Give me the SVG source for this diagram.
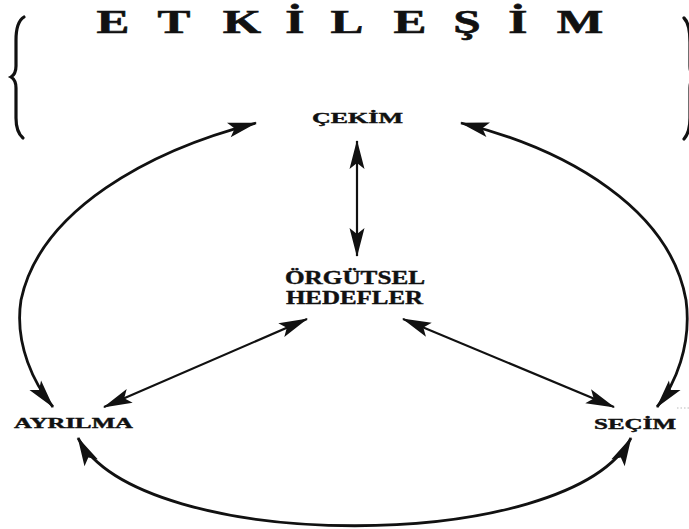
<svg xmlns="http://www.w3.org/2000/svg" width="689" height="529" viewBox="0 0 689 529">
<style>
.lbl{font-family:"Liberation Serif","Times New Roman",serif;font-weight:bold;fill:#111;stroke:#111;stroke-width:0.4}
.ttl{font-family:"Liberation Serif","Times New Roman",serif;font-weight:bold;font-size:34px;fill:#111;stroke:#111;stroke-width:0.6}
.ln{fill:none;stroke:#111;stroke-width:2.2}
.arc{fill:none;stroke:#111;stroke-width:2.8}
.brace{fill:none;stroke:#111;stroke-width:3.2;stroke-linecap:round}
</style>
<defs>
<marker id="ah" viewBox="-30 -9 32 18" refX="0" refY="0" markerWidth="32" markerHeight="18" markerUnits="userSpaceOnUse" orient="auto-start-reverse">
<path d="M1,0 L-28,-7.5 L-22,0 L-28,7.5 Z" fill="#111"/>
</marker>
</defs>
<rect width="689" height="529" fill="#fff"/>
<g id="title">
<text class="ttl" transform="scale(1.45,1)" y="33" text-anchor="middle" x="77.9 120 166.9 203.4 239.3 282.8 322.1 357.2 400">ETKİLEŞİM</text>
<path class="brace" d="M24,17 Q16,22 16,40 L16,66 Q16,74 11,77 Q16,80 16,88 L16,118 Q16,132 23,138"/>
<path class="brace" d="M684,18 Q690,24 690,42 L690,66 Q690,74 695,77 Q690,80 690,88 L690,118 Q690,132 684,139"/>
</g>
<g id="cekim"><text class="lbl" font-size="15" x="312" y="123" textLength="91" lengthAdjust="spacingAndGlyphs">ÇEKİM</text></g>
<g id="orgutsel-hedefler">
<text class="lbl" font-size="18" x="285" y="284" textLength="140" lengthAdjust="spacingAndGlyphs">ÖRGÜTSEL</text>
<text class="lbl" font-size="18" x="286" y="304" textLength="137" lengthAdjust="spacingAndGlyphs">HEDEFLER</text>
</g>
<g id="ayrilma"><text class="lbl" font-size="15" x="14" y="428" textLength="119" lengthAdjust="spacingAndGlyphs">AYRILMA</text></g>
<g id="secim"><text class="lbl" font-size="15" x="594" y="429" textLength="82" lengthAdjust="spacingAndGlyphs">SEÇİM</text></g>
<g id="connectors">
<path class="ln" d="M357,141 L357,256" marker-start="url(#ah)" marker-end="url(#ah)"/>
<path class="ln" d="M307,319 L104,407" marker-start="url(#ah)" marker-end="url(#ah)"/>
<path class="ln" d="M403,319 L614,407" marker-start="url(#ah)" marker-end="url(#ah)"/>
<path class="arc" d="M256,123 C150,150 40,210 21,300 C14,345 35,385 53,407" marker-start="url(#ah)" marker-end="url(#ah)"/>
<path class="arc" d="M461,123 C570,150 670,210 686,300 C692,345 675,385 657,407" marker-start="url(#ah)" marker-end="url(#ah)"/>
<path class="arc" d="M78,438 C140,555 570,555 631,438" marker-start="url(#ah)" marker-end="url(#ah)"/>
</g>
<path d="M677,408 L689,408" stroke="#bbb" stroke-width="1" stroke-dasharray="1.5 2"/>
</svg>
